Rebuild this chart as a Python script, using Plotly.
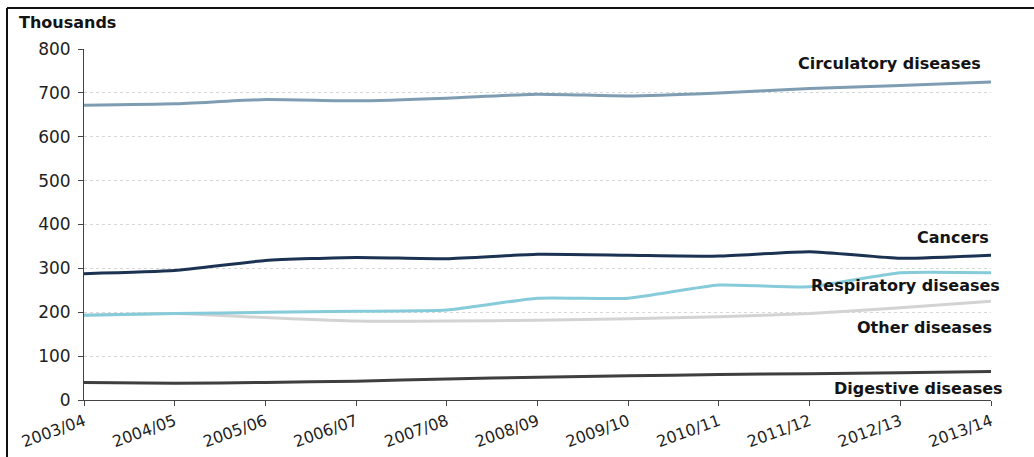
import plotly.graph_objects as go

years = ["2003/04", "2004/05", "2005/06", "2006/07", "2007/08", "2008/09",
         "2009/10", "2010/11", "2011/12", "2012/13", "2013/14"]
circulatory = [672, 675, 685, 682, 688, 697, 693, 700, 710, 717, 725]
cancers = [288, 295, 318, 325, 322, 332, 330, 328, 338, 323, 330]
respiratory = [193, 197, 200, 202, 205, 232, 232, 262, 258, 290, 290]
other = [193, 197, 188, 180, 180, 182, 185, 190, 197, 210, 225]
digestive = [40, 38, 40, 43, 48, 52, 55, 58, 60, 62, 65]

series = [
    ("Other diseases", other, "#d3d3d3"),
    ("Respiratory diseases", respiratory, "#86cbd9"),
    ("Digestive diseases", digestive, "#3f3f3f"),
    ("Cancers", cancers, "#1b3252"),
    ("Circulatory diseases", circulatory, "#7f9db2"),
]

W, H = 1034, 457
ML, MR, MT, MB = 84, 43, 49, 57
PW, PH = W - ML - MR, H - MT - MB


def px(x):
    return (x - ML) / PW


def py(y):
    return (H - MB - y) / PH


# label anchors in pixels (right edge, vertical centre)
label_pos = {
    "Circulatory diseases": (983, 64),
    "Cancers": (991, 237),
    "Respiratory diseases": (1002, 285),
    "Other diseases": (994, 327),
    "Digestive diseases": (1005, 388),
}

xi = list(range(len(years)))
fig = go.Figure()
for name, vals, col in series:
    fig.add_trace(go.Scatter(x=xi, y=vals, mode="lines", name=name,
                             line=dict(color=col, width=3, shape="spline", smoothing=0.5),
                             showlegend=False, hoverinfo="skip"))

for name, (lx, ly) in label_pos.items():
    fig.add_annotation(x=px(lx), y=py(ly), xref="paper", yref="paper",
                       text="<b>%s</b>" % name, showarrow=False,
                       xanchor="right", yanchor="middle",
                       font=dict(family="DejaVu Sans", size=16, color="#141414"))

fig.add_annotation(x=px(17), y=py(22), xref="paper", yref="paper",
                   text="<b>Thousands</b>", showarrow=False, xanchor="left", yanchor="middle",
                   font=dict(family="DejaVu Sans", size=16, color="#141414"))

# frame lines (top and left)
fig.add_shape(type="line", xref="paper", yref="paper", x0=px(7), x1=px(W), y0=py(8), y1=py(8),
              line=dict(color="#111111", width=2))
fig.add_shape(type="line", xref="paper", yref="paper", x0=px(7), x1=px(7), y0=py(H), y1=py(8),
              line=dict(color="#111111", width=2))

fig.update_layout(
    width=W, height=H,
    margin=dict(l=ML, r=MR, t=MT, b=MB),
    paper_bgcolor="white", plot_bgcolor="white",
    font=dict(family="DejaVu Sans", size=16, color="#1e1e1e"),
)
fig.update_xaxes(range=[0, 10], tickvals=xi, ticktext=years, tickangle=-20,
                 showgrid=False, zeroline=False, showline=True, linecolor="#444444",
                 linewidth=1, ticks="outside", ticklen=5, tickcolor="#444444",
                 tickfont=dict(size=16), automargin=False)
fig.update_yaxes(range=[0, 800], dtick=100, showgrid=True, gridcolor="#d6d6d6",
                 griddash="dot", gridwidth=1, zeroline=False, showline=True,
                 linecolor="#444444", linewidth=1, ticks="outside", ticklen=5,
                 tickcolor="#444444", tickfont=dict(size=17), ticklabelstandoff=4,
                 automargin=False)

fig.write_html("out.html")
